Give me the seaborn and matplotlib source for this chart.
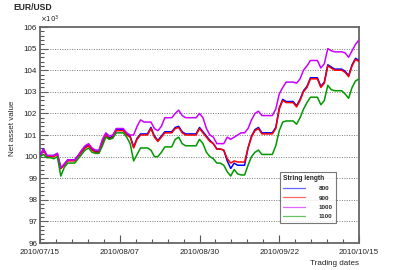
import pandas as pd
import numpy as np
import matplotlib
matplotlib.use("Agg")
import matplotlib.pyplot as plt
import matplotlib.dates as mdates
import matplotlib.ticker as mticker
import seaborn as sns

# calendar days from 2010/07/15 to 2010/10/15, weekends hold Friday's value
dates = pd.date_range("2010-07-15", "2010-10-15", freq="D")

nav_800 = [100.05, 100.35, 100.05, 100.05, 100.05, 100.15, 99.45, 99.65, 99.85, 99.85,
           99.85, 100.05, 100.25, 100.45, 100.55, 100.35, 100.25, 100.25, 100.65, 101.05,
           100.85, 100.95, 101.25, 101.25, 101.25, 101.05, 100.95, 100.45, 100.85, 101.05,
           101.05, 101.05, 101.35, 100.95, 100.75, 100.95, 101.15, 101.15, 101.15, 101.35,
           101.4, 101.15, 101.05, 101.05, 101.05, 101.05, 101.35, 101.15, 100.95, 100.75,
           100.6, 100.35, 100.35, 100.3, 99.8, 99.45, 99.7, 99.6, 99.6, 99.6,
           100.4, 100.95, 101.25, 101.35, 101.1, 101.1, 101.1, 101.1, 101.35, 102.25,
           102.65, 102.55, 102.55, 102.55, 102.35, 102.65, 103.05, 103.25, 103.65, 103.65,
           103.65, 103.25, 103.45, 104.25, 104.15, 104.05, 104.05, 104.05, 103.95, 103.75,
           104.25, 104.55, 104.45]
nav_900 = [100.0, 100.3, 100.0, 100.0, 100.0, 100.1, 99.45, 99.6, 99.8, 99.8,
           99.8, 100.0, 100.2, 100.4, 100.5, 100.3, 100.2, 100.2, 100.6, 101.0,
           100.8, 100.9, 101.2, 101.2, 101.2, 101.0, 100.9, 100.4, 100.8, 101.0,
           101.0, 101.0, 101.3, 100.9, 100.7, 100.9, 101.1, 101.1, 101.1, 101.3,
           101.35, 101.1, 101.0, 101.0, 101.0, 101.0, 101.3, 101.1, 100.9, 100.7,
           100.6, 100.35, 100.35, 100.3, 99.9, 99.7, 99.8, 99.75, 99.75, 99.75,
           100.4, 100.9, 101.2, 101.3, 101.05, 101.05, 101.05, 101.05, 101.3, 102.2,
           102.6, 102.5, 102.5, 102.5, 102.3, 102.6, 103.0, 103.2, 103.6, 103.6,
           103.6, 103.2, 103.4, 104.2, 104.1, 104.0, 104.0, 104.0, 103.9, 103.7,
           104.2, 104.5, 104.4]
nav_1000 = [100.0, 100.35, 100.05, 100.05, 100.05, 100.15, 99.5, 99.65, 99.85, 99.85,
            99.85, 100.05, 100.3, 100.5, 100.6, 100.4, 100.3, 100.3, 100.8, 101.1,
            100.95, 101.0, 101.3, 101.3, 101.3, 101.1, 101.0, 101.0, 101.4, 101.7,
            101.6, 101.6, 101.6, 101.3, 101.2, 101.4, 101.8, 101.8, 101.8, 102.0,
            102.15, 101.9, 101.8, 101.8, 101.8, 101.8, 102.0, 101.8, 101.3, 101.0,
            100.9, 100.6, 100.6, 100.6, 100.9, 100.8, 100.9, 101.0, 101.1, 101.1,
            101.3, 101.7, 102.0, 102.1, 101.9, 101.9, 101.9, 101.9, 102.2, 102.9,
            103.2, 103.45, 103.45, 103.45, 103.4, 103.6, 104.0, 104.2, 104.45, 104.45,
            104.45, 104.1, 104.3, 105.0, 104.9, 104.85, 104.85, 104.85, 104.8, 104.6,
            104.9, 105.2, 105.4]
nav_1100 = [100.0, 100.1, 99.95, 99.95, 99.9, 100.0, 99.1, 99.5, 99.7, 99.7,
            99.7, 99.9, 100.1, 100.3, 100.4, 100.2, 100.15, 100.15, 100.5, 100.9,
            100.8, 100.85, 101.1, 101.1, 101.1, 100.9, 100.6, 99.8, 100.1, 100.4,
            100.4, 100.4, 100.3, 100.0, 100.0, 100.2, 100.45, 100.45, 100.45, 100.8,
            100.9, 100.6, 100.5, 100.5, 100.5, 100.5, 100.8, 100.6, 100.2, 100.0,
            99.9, 99.7, 99.7, 99.6, 99.3, 99.1, 99.4, 99.2, 99.15, 99.15,
            99.6, 100.0, 100.2, 100.3, 100.1, 100.1, 100.1, 100.1, 100.5, 101.2,
            101.6, 101.65, 101.65, 101.65, 101.5, 101.8, 102.2, 102.5, 102.75, 102.75,
            102.75, 102.4, 102.6, 103.3, 103.1, 103.05, 103.05, 103.05, 102.9, 102.7,
            103.2, 103.5, 103.6]

lengths = ["800", "900", "1000", "1100"]
colors = ["#0000ff", "#ff0000", "#cc00ff", "#009900"]

df = pd.concat([
    pd.DataFrame({"date": dates, "nav": v, "String length": k})
    for k, v in zip(lengths, [nav_800, nav_900, nav_1000, nav_1100])
])

sns.set_style("ticks")
plt.rcParams["font.family"] = ["Liberation Sans", "DejaVu Sans"]

fig = plt.figure(figsize=(3.99, 2.70), dpi=100)
ax = fig.add_axes([40 / 399, 1 - 243 / 270, 319 / 399, 216 / 270])

sns.lineplot(data=df, x="date", y="nav", hue="String length", hue_order=lengths,
             palette=colors, linewidth=1.1, legend=False, ax=ax, zorder=3)

ax.set_xlim(dates[0], dates[-1])
ax.set_ylim(96, 106)

major = pd.date_range("2010-07-15", "2010-10-15", freq="23D")
ax.xaxis.set_major_locator(mticker.FixedLocator(mdates.date2num(major)))
ax.xaxis.set_minor_locator(mticker.FixedLocator(
    np.arange(mdates.date2num(major[0]), mdates.date2num(major[-1]) + 0.1, 4.6)))
ax.xaxis.set_major_formatter(mdates.DateFormatter("%Y/%m/%d"))
ax.yaxis.set_major_locator(mticker.MultipleLocator(1))
ax.yaxis.set_minor_locator(mticker.MultipleLocator(0.2))

ax.tick_params(which="both", direction="in", colors="#555555", labelcolor="#222222",
               labelsize=5.8, width=0.8)
ax.tick_params(which="major", length=6)
ax.tick_params(which="minor", length=3)
ax.tick_params(axis="y", pad=2)
ax.tick_params(axis="x", pad=4.5)

for y in range(97, 106):
    ax.axhline(y, color="#777777", linestyle=(0, (1, 1.5)), linewidth=0.7, zorder=1)

for s in ax.spines.values():
    s.set_color("#666666")
    s.set_linewidth(1.3)

ax.set_xlabel("Trading dates", fontsize=5.8, color="#222222", ha="right", x=1.0, labelpad=3)
ax.set_ylabel("Net asset value", fontsize=5.8, color="#222222", y=0.53, labelpad=6)

ax.text(0.0, 1.01, r"$\times10^{3}$", transform=ax.transAxes, fontsize=5,
        color="#222222", va="bottom", ha="left")
fig.text(13 / 399, 1 - 8 / 270, "EUR/USD", fontsize=6.2, fontweight="bold", va="center")

leg = ax.legend(ax.lines[:4], lengths, title="String length", loc="lower left",
                bbox_to_anchor=(0.742, 0.08), fontsize=4.5, title_fontsize=4.8,
                frameon=True, fancybox=False, handlelength=3.5, borderpad=0.55,
                labelspacing=0.62, handletextpad=2.2)
leg.get_title().set_fontweight("bold")
leg._legend_box.align = "left"
leg.get_frame().set_edgecolor("#555555")
leg.get_frame().set_linewidth(0.8)
for t in leg.get_texts():
    t.set_fontweight("bold")
for h in leg.legend_handles:
    h.set_linewidth(0.9)
    h.set_alpha(0.6)
leg.set_zorder(5)

fig.savefig("out.png", dpi=100)
